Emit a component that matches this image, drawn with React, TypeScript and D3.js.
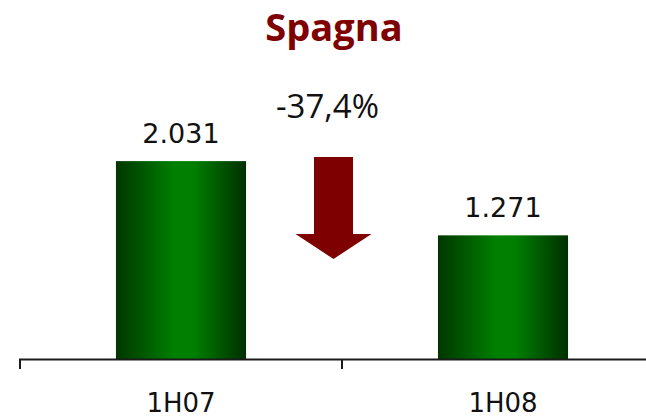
import * as d3 from 'd3';

const categories = ['1H07', '1H08'];
const values = [2031, 1271];
const valueLabels = ['2.031', '1.271'];
const title = 'Spagna';
const changeLabel = '-37,4%';

const W = 646;
const H = 418;
const RED = '#7f0000';

export default function App() {
  const x = d3.scaleBand<string>().domain(categories).range([20, 664]).paddingInner(0.596).paddingOuter(0.298);
  const y = d3.scaleLinear().domain([0, 2500]).range([359.5, 115.3]);
  const base = y(0);

  // arrow sits a little left of the gap between the bars
  const ax = (x(categories[0])! + x.bandwidth() + x(categories[1])!) / 2 - 8.5;
  const arrow = d3.path();
  arrow.moveTo(ax - 19.5, 157);
  arrow.lineTo(ax + 19.5, 157);
  arrow.lineTo(ax + 19.5, 234);
  arrow.lineTo(ax + 38, 234);
  arrow.lineTo(ax, 259);
  arrow.lineTo(ax - 38, 234);
  arrow.lineTo(ax - 19.5, 234);
  arrow.closePath();

  return (
    <svg width={W} height={H} style={{ position: 'absolute', left: 0, top: 0 }}>
      <defs>
        <linearGradient id="barGrad" x1="0" x2="1" y1="0" y2="0">
          <stop offset="0%" stopColor="#003600" />
          <stop offset="45%" stopColor="#008000" />
          <stop offset="60%" stopColor="#007e00" />
          <stop offset="100%" stopColor="#003000" />
        </linearGradient>
      </defs>
      <text x={334} y={41} textAnchor="middle" fontFamily="'Open Sans', sans-serif" fontWeight="bold" fontSize={38} fill={RED}>
        {title}
      </text>
      {categories.map((c, i) => (
        <g key={c}>
          <rect x={x(c)} y={y(values[i])} width={x.bandwidth()} height={base - y(values[i])} fill="url(#barGrad)" />
          <text x={x(c)! + x.bandwidth() / 2} y={y(values[i]) - 18} textAnchor="middle" fontFamily="'DejaVu Sans', sans-serif" fontSize={27} fill="#111">
            {valueLabels[i]}
          </text>
          <text x={x(c)! + x.bandwidth() / 2} y={412} textAnchor="middle" fontFamily="'DejaVu Sans', sans-serif" fontSize={26} fill="#111">
            {c}
          </text>
        </g>
      ))}
      <path d={arrow.toString()} fill={RED} />
      <text x={327.5} y={118} textAnchor="middle" fontFamily="'Open Sans', sans-serif" fontSize={33} fill="#111">
        {changeLabel}
      </text>
      <line x1={19} x2={W} y1={base} y2={base} stroke="#1a1a1a" strokeWidth={2} />
      {[20, 342].map((t) => (
        <line key={t} x1={t} x2={t} y1={base} y2={369} stroke="#1a1a1a" strokeWidth={2} />
      ))}
    </svg>
  );
}
